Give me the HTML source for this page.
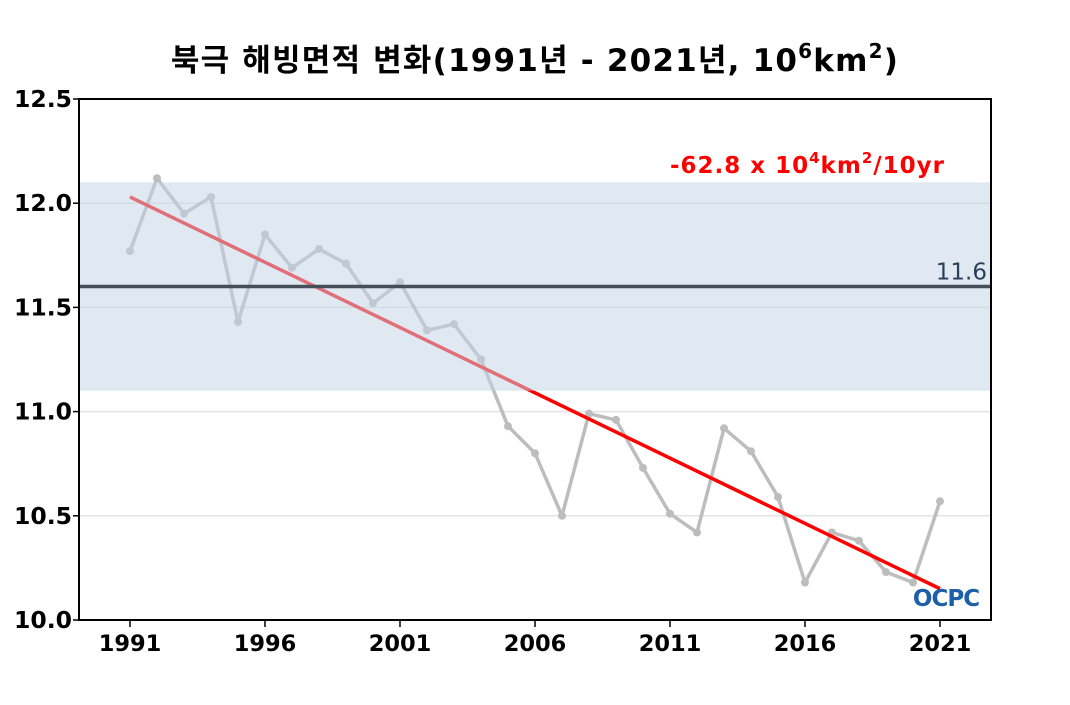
<!DOCTYPE html>
<html><head><meta charset="utf-8">
<style>
body{margin:0;background:#fff;width:1070px;height:700px;overflow:hidden;}
svg text{font-family:"DejaVu Sans","Noto Sans CJK KR",sans-serif;}
</style></head>
<body>
<svg id="chart" width="1070" height="700" xmlns="http://www.w3.org/2000/svg">
<text x="535" y="71" text-anchor="middle" font-size="31" font-weight="bold" fill="#000" letter-spacing="1.2">북극 해빙면적 변화(1991년 - 2021년, 10<tspan font-size="20" dy="-13">6</tspan><tspan dy="13">km</tspan><tspan font-size="20" dy="-13">2</tspan><tspan dy="13">)</tspan></text>
<g id="grid"></g>
<g id="series"></g>
<g id="band"></g>
<g id="overlay"></g>
<rect x="79" y="99" width="912" height="521" fill="none" stroke="#000" stroke-width="2"/>
<g id="axes"></g>
<text x="945" y="173" text-anchor="end" font-size="23" font-weight="bold" fill="#ff0000" letter-spacing="1">-62.8 x 10<tspan font-size="15" dy="-10">4</tspan><tspan dy="10">km</tspan><tspan font-size="15" dy="-10">2</tspan><tspan dy="10">/10yr</tspan></text>
<g>
<text x="946" y="606" text-anchor="middle" font-size="23" font-weight="bold" fill="#1d5fa8" letter-spacing="-1">OCPC</text>
</g>
</svg>
<script>
const years=[1991,1992,1993,1994,1995,1996,1997,1998,1999,2000,2001,2002,2003,2004,2005,2006,2007,2008,2009,2010,2011,2012,2013,2014,2015,2016,2017,2018,2019,2020,2021];
const extent=[11.77,12.12,11.95,12.03,11.43,11.85,11.69,11.78,11.71,11.52,11.62,11.39,11.42,11.25,10.93,10.80,10.50,10.99,10.96,10.73,10.51,10.42,10.92,10.81,10.59,10.18,10.42,10.38,10.23,10.18,10.57];
const trendEnds=[12.03,10.15];
const meanValue=[11.6];
const bandRange=[11.1,12.1];
const yTicks=[10.0,10.5,11.0,11.5,12.0,12.5];
const xTicks=[1991,1996,2001,2006,2011,2016,2021];
const NS="http://www.w3.org/2000/svg";
const X=y=>130+(y-1991)*27;
const Y=v=>620-(v-10)*208.4;
function mk(tag,attrs,parent){const e=document.createElementNS(NS,tag);for(const k in attrs)e.setAttribute(k,attrs[k]);document.getElementById(parent).appendChild(e);return e;}
yTicks.forEach(t=>{
 const g=mk('line',{x1:79,x2:991,y1:Y(t),y2:Y(t),stroke:'#e3e3e3','stroke-width':1.5},'grid');
 
 
 const tk=mk('line',{x1:73,x2:79,y1:Y(t),y2:Y(t),stroke:'#000','stroke-width':1.5},'axes');
 
 
 const l=mk('text',{x:72,y:Y(t)+8,'text-anchor':'end','font-size':23.5,'font-weight':'bold',fill:'#000'},'axes');
 l.textContent=t.toFixed(1);
 
 
});
xTicks.forEach(t=>{
 const tk=mk('line',{x1:X(t),x2:X(t),y1:620,y2:627,stroke:'#000','stroke-width':1.5},'axes');
 
 
 const l=mk('text',{x:X(t),y:651,'text-anchor':'middle','font-size':22.5,'font-weight':'bold',fill:'#000'},'axes');
 l.textContent=t;
 
 
});
const pts=years.map((y,i)=>X(y)+','+Y(extent[i])).join(' ');
const pl=mk('polyline',{points:pts,fill:'none',stroke:'#bdbdbd','stroke-width':3.5,'stroke-linejoin':'round'},'series');


years.forEach((y,i)=>{
 const c=mk('circle',{cx:X(y),cy:Y(extent[i]),r:4,fill:'#bdbdbd'},'series');
 
 
});
const tr=mk('line',{x1:X(years[0]),y1:Y(trendEnds[0]),x2:X(years[years.length-1]),y2:Y(trendEnds[1]),stroke:'#ff0000','stroke-width':3.5},'series');


const b=mk('rect',{x:79,y:Y(bandRange[1]),width:912,height:Y(bandRange[0])-Y(bandRange[1]),fill:'rgba(196,212,230,0.52)'},'band');


const m=mk('line',{x1:79,x2:991,y1:Y(meanValue[0]),y2:Y(meanValue[0]),stroke:'#454f5a','stroke-width':3.5},'overlay');


const ml=mk('text',{x:987,y:Y(meanValue[0])-7,'text-anchor':'end','font-size':23,fill:'#2c3e5a'},'overlay');
ml.textContent=meanValue[0].toFixed(1);


</script>
</body></html>
